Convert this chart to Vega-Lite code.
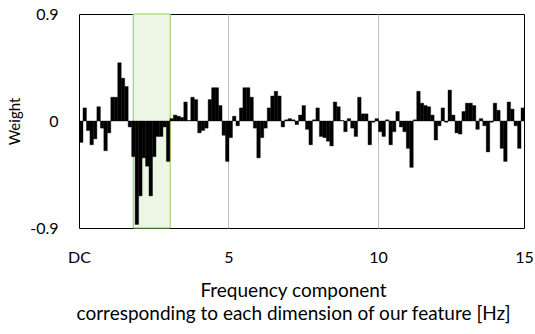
{
  "$schema": "https://vega.github.io/schema/vega-lite/v6.json",
  "width": 445,
  "height": 214,
  "autosize": "none",
  "padding": {"left": 79, "top": 14, "right": 11, "bottom": 106},
  "config": {"view": {"stroke": "#000000", "strokeWidth": 1}, "font": "Lato"},
  "layer": [
    {
      "data": {"values": [{"lo": 15.6, "hi": 26.24}]},
      "mark": {"type": "rect", "fill": "#ebf6e4", "stroke": "#92d050", "strokeWidth": 1},
      "encoding": {
        "x": {"field": "lo", "type": "quantitative", "scale": {"domain": [0, 128], "nice": false, "zero": false}},
        "x2": {"field": "hi"},
        "y": {"datum": -0.9, "type": "quantitative"},
        "y2": {"datum": 0.9}
      }
    },
    {
      "data": {"values": [
        {"i":0,"w":-0.18},{"i":1,"w":0.11},{"i":2,"w":-0.08},{"i":3,"w":-0.2},{"i":4,"w":-0.15},{"i":5,"w":0.12},{"i":6,"w":-0.06},{"i":7,"w":-0.25},
        {"i":8,"w":-0.1},{"i":9,"w":0.2},{"i":10,"w":0.2},{"i":11,"w":0.49},{"i":12,"w":0.36},{"i":13,"w":0.29},{"i":14,"w":-0.05},{"i":15,"w":-0.3},
        {"i":16,"w":-0.87},{"i":17,"w":-0.63},{"i":18,"w":-0.31},{"i":19,"w":-0.38},{"i":20,"w":-0.63},{"i":21,"w":-0.3},{"i":22,"w":-0.13},{"i":23,"w":-0.13},
        {"i":24,"w":-0.05},{"i":25,"w":-0.34},{"i":26,"w":0.02},{"i":27,"w":0.05},{"i":28,"w":0.04},{"i":29,"w":0.03},{"i":30,"w":0.16},{"i":31,"w":0.005},
        {"i":32,"w":0.2},{"i":33,"w":0.18},{"i":34,"w":-0.1},{"i":35,"w":-0.08},{"i":36,"w":-0.06},{"i":37,"w":0.18},{"i":38,"w":0.28},{"i":39,"w":0.28},
        {"i":40,"w":0.13},{"i":41,"w":-0.12},{"i":42,"w":-0.34},{"i":43,"w":-0.14},{"i":44,"w":0.04},{"i":45,"w":-0.04},{"i":46,"w":0.11},{"i":47,"w":0.28},
        {"i":48,"w":0.28},{"i":49,"w":0.2},{"i":50,"w":-0.06},{"i":51,"w":-0.31},{"i":52,"w":-0.14},{"i":53,"w":-0.06},{"i":54,"w":0.11},{"i":55,"w":0.21},
        {"i":56,"w":0.25},{"i":57,"w":0.21},{"i":58,"w":-0.05},{"i":59,"w":0.01},{"i":60,"w":0.02},{"i":61,"w":0.01},{"i":62,"w":-0.03},{"i":63,"w":0.05},
        {"i":64,"w":0.13},{"i":65,"w":-0.07},{"i":66,"w":-0.2},{"i":67,"w":0.01},{"i":68,"w":0.11},{"i":69,"w":-0.13},{"i":70,"w":-0.14},{"i":71,"w":-0.17},
        {"i":72,"w":-0.21},{"i":73,"w":0.16},{"i":74,"w":0.12},{"i":75,"w":0.005},{"i":76,"w":-0.09},{"i":77,"w":0.02},{"i":78,"w":-0.06},{"i":79,"w":-0.13},
        {"i":80,"w":0.2},{"i":81,"w":0.06},{"i":82,"w":0.06},{"i":83,"w":-0.2},{"i":84,"w":-0.01},{"i":85,"w":0.02},{"i":86,"w":-0.09},{"i":87,"w":-0.13},
        {"i":88,"w":0.01},{"i":89,"w":-0.2},{"i":90,"w":-0.09},{"i":91,"w":0.08},{"i":92,"w":-0.05},{"i":93,"w":-0.09},{"i":94,"w":-0.23},{"i":95,"w":-0.39},
        {"i":96,"w":0.01},{"i":97,"w":0.25},{"i":98,"w":0.15},{"i":99,"w":0.13},{"i":100,"w":0.12},{"i":101,"w":0.05},{"i":102,"w":-0.16},{"i":103,"w":-0.04},
        {"i":104,"w":0.11},{"i":105,"w":-0.01},{"i":106,"w":0.26},{"i":107,"w":0.05},{"i":108,"w":-0.1},{"i":109,"w":-0.11},{"i":110,"w":0.08},{"i":111,"w":0.15},
        {"i":112,"w":0.15},{"i":113,"w":0.13},{"i":114,"w":-0.07},{"i":115,"w":0.02},{"i":116,"w":-0.04},{"i":117,"w":-0.26},{"i":118,"w":-0.01},{"i":119,"w":0.15},
        {"i":120,"w":0.09},{"i":121,"w":-0.23},{"i":122,"w":-0.34},{"i":123,"w":0.16},{"i":124,"w":0.1},{"i":125,"w":-0.04},{"i":126,"w":-0.23},{"i":127,"w":0.11}
      ]},
      "mark": {"type": "bar", "color": "#000000", "stroke": "#000000", "strokeWidth": 0.4, "binSpacing": 0},
      "encoding": {
        "x": {
          "field": "i", "type": "quantitative", "bin": {"binned": true, "step": 1},
          "scale": {"domain": [0, 128], "nice": false, "zero": false},
          "axis": {
            "values": [0, 43, 86, 128],
            "labelExpr": "datum.value == 0 ? 'DC' : datum.value == 43 ? '5' : datum.value == 86 ? '10' : '15'",
            "ticks": false, "domain": false, "grid": true, "gridColor": "#bfbfbf",
            "gridOpacity": {"condition": {"test": "datum.value == 43 || datum.value == 86", "value": 1}, "value": 0},
            "labelFontSize": 16, "labelColor": "#000000", "labelPadding": 21, "labelFlush": false, "labelOverlap": false,
            "encode": {"labels": {"update": {"dx": {"signal": "datum.value == 0 ? -2 : datum.value == 43 ? -4.6 : datum.value == 86 ? -7 : -12"}}}},
            "title": ["Frequency component", "corresponding to each dimension of our feature [Hz]"],
            "titleFontSize": 19, "titleFontWeight": "normal", "titleColor": "#000000", "titleLineHeight": 23,
            "titleBaseline": "top", "titleY": 53, "titleX": 214, "titleAlign": "center"
          }
        },
        "y": {
          "field": "w", "type": "quantitative",
          "scale": {"domain": [-0.9, 0.9], "nice": false},
          "axis": {
            "values": [-0.9, 0, 0.9],
            "labelExpr": "datum.value == 0 ? '0' : datum.value > 0 ? '0.9' : '-0.9'",
            "ticks": false, "domain": false, "grid": false, "labelFlush": false,
            "labelFontSize": 16, "labelColor": "#000000", "labelPadding": 21,
            "title": "Weight", "titleFontSize": 15, "titleFontWeight": "normal", "titleColor": "#000000",
            "titleX": -65, "titleY": 107, "titleAlign": "center", "titleBaseline": "middle", "titleAngle": -90
          }
        }
      }
    }
  ]
}
